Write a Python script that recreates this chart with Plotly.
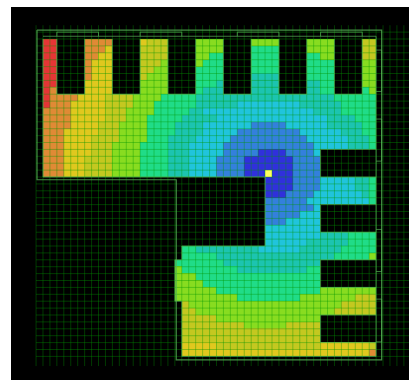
import plotly.graph_objects as go

# Levels: 0 dark blue ... 9 red, H = the single source cell, . = no cell
rows = [
"99....8888....7666....5555....5555....5555....66",
"99....8887....6666....5555....4444....5555....66",
"99....8877....6666....5544....4444....4455....66",
"99....8777....6665....5444....4444....4444....55",
"99....8777....6655....4444....4444....4444....55",
"99....8777....6555....4444....3333....4444....55",
"99....7777....5555....4443....3333....3344....55",
"98....7777....5555....4333....3333....3344....45",
"9888877776666555544444"   "33333333333333333333" "444444",
"9888777776666555444444"   "333333" "222222222" "333333" "44444",
"888877777666555544444"    "33" "2222222222222222" "3333" "44444",
"88887777766655544444"     "33333" "2222222222222222" "3333" "444",
"88887777666555544443333"  "2222222" "11111" "222222" "33333" "44",
"88877777666555544443333"  "22222" "111111111" "222222" "333" "44",
"8887777666655554443333"   "22222" "11111111111" "222222" "333" "4",
"888777766655554444333"    "22222" "1111111111111" "22222" "333" "4",
"888777766655554444333"    "22222" "11111" "0000" "1111" "2" "........",
"888777666655554444333"    "2222" "1111" "0000000" "1111" "........",
"888777666655554444333"    "2222" "1111" "0000000" "1111" "........",
"888777666655554444333"    "2222" "1111" "000H000" "1111" "........",
"................................" "0000111122222334",
"................................" "0000111122222334",
"................................" "0001111222222234",
"................................" "1111112222222224",
"................................" "1111111" "2" "........",
"................................" "11111" "222" "........",
"................................" "111" "22222" "........",
"................................" "22222222" "........",
"................................" "2222222233334444",
"................................" "2222223333334444",
"...................." "44" "333333333" "222222" "333333" "44444",
"...................." "44444" "33333333333333333" "44444" "5",
"..................." "4" "444444" "33333333333333" "........",
"..................." "5" "44444444" "3333333333" "44" "........",
"..................." "5" "55" "444444444444444444" "........",
"..................." "5" "555" "44444444444444444" "........",
"..................." "5" "55555" "444444444444444" "55555555",
"..................." "5" "55555555" "444444444" "55555555" "666",
"...................." "6" "5555555555555555555555" "66666",
"...................." "66" "55555555555555555555" "666666",
"...................." "66666" "555555555555555" "........",
"...................." "666666666" "555555" "66666" "........",
"...................." "66666666666666666666" "........",
"...................." "66666666666666666666" "........",
"...................." "77777" "666666666666666" "7777777" "6",
"...................." "777777777777777777777777777" "8",
]
level_colors = ["#3030DC", "#3380DC", "#20C4DC", "#1CC4B0", "#20DC88",
                "#88DC20", "#C4C820", "#E0C81E", "#E08A35", "#E53535", "#FFFF60"]

top_walls = [2, 10, 18, 26, 34, 42]
right_walls = [16, 24, 32, 40]
top_windows = [(2, 8), (14, 20), (28, 34), (40, 46)]
right_windows = [(1.1, 7.1), (11.1, 17.2), (27.1, 33.2), (37.2, 43.4)]
outer_x = [-1.36, 48.3, 48.3, 18.7, 18.7, -1.36, -1.36]
outer_y = [-1.8, -1.8, 46.0, 46.0, 19.9, 19.9, -1.8]

assert all(len(r) == 48 for r in rows), [len(r) for r in rows]

def val(c):
    return None if c == "." else 10 if c == "H" else int(c)

z = [[val(c) for c in r] for r in rows]
n = len(level_colors)
scale = []
for i, col in enumerate(level_colors):
    scale += [[i / n, col], [(i + 1) / n, col]]

fig = go.Figure(go.Heatmap(z=z, zmin=0, zmax=n, colorscale=scale, showscale=False,
                           hoverongaps=False, xgap=0, ygap=0))

def add_line(xs, ys, color, width):
    fig.add_trace(go.Scatter(x=xs, y=ys, mode="lines", hoverinfo="skip", showlegend=False,
                             line=dict(color=color, width=width)))

# grid, over the cells
gx, gy = [], []
for c in range(-1, 54):
    gx += [c - 0.5, c - 0.5, None]
    gy += [-2.5, 46.9, None]
for r in range(-1, 47):
    gx += [-1.5, 53, None]
    gy += [r - 0.5, r - 0.5, None]
add_line(gx, gy, "rgba(0,150,0,0.38)", 1)

# walls
wx, wy = [], []
for w in top_walls:
    wx += [w - 0.5, w - 0.5, w + 3.5, w + 3.5, None]
    wy += [-0.5, 7.5, 7.5, -0.5, None]
for w in right_walls:
    wx += [47.5, 39.5, 39.5, 47.5, None]
    wy += [w - 0.5, w - 0.5, w + 3.5, w + 3.5, None]
wx += [-0.5, 47.5, 47.5, None, -0.5, -0.5, 19.5, 19.5, 31.5, 31.5, 19.5, 19.5, 18.5, 18.5, 19.5, 19.5, 47.5, 47.5, None]
wy += [-0.9, -0.9, 45.5, None, -0.5, 19.5, 19.5, 19.5, 19.5, 29.5, 29.5, 31.5, 31.5, 37.5, 37.5, 45.5, 45.5, 45.5, None]
for a, b in top_windows:
    wx += [a - 0.5, a - 0.5, b - 0.5, b - 0.5, None]
    wy += [-0.9, -1.5, -1.5, -0.9, None]
for a, b in right_windows:
    wx += [47.5, 48.3, 48.3, 47.5, None]
    wy += [a, a, b, b, None]
add_line(wx, wy, "rgba(85,175,85,0.7)", 1)
add_line(outer_x, outer_y, "rgba(85,175,85,0.8)", 1.2)

fig.update_layout(
    width=409, height=380, margin=dict(l=11, r=0, t=7, b=0),
    paper_bgcolor="white", plot_bgcolor="black", showlegend=False,
    xaxis=dict(range=[-5.11, 52.24], visible=False, fixedrange=True),
    yaxis=dict(range=[48.92, -5.14], visible=False, fixedrange=True),
)
fig.write_html("out.html", config={"displayModeBar": False},
               post_script="document.body.style.margin='0';document.body.style.overflow='hidden';")
